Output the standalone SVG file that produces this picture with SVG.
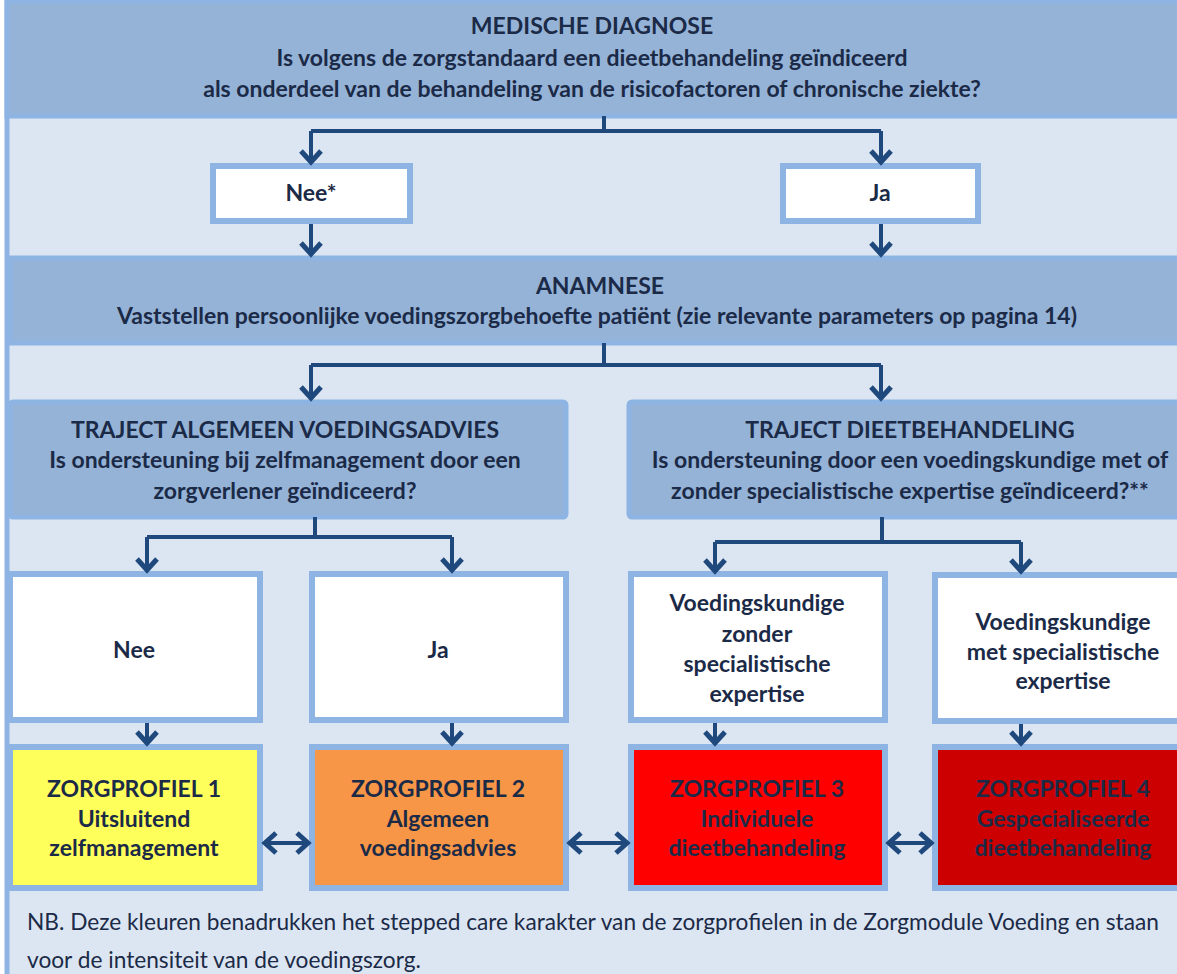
<svg xmlns="http://www.w3.org/2000/svg" width="1177" height="974" viewBox="0 0 1177 974">
<defs>
<style>
.band{fill:#95b3d7;stroke:#8eb4e3;stroke-width:5}
.box{fill:#ffffff;stroke:#8eb4e3;stroke-width:6}
.t{font-family:Lato,"Liberation Sans",sans-serif;font-weight:bold;font-size:23px;fill:#1b2a47;text-anchor:middle}
.nb{font-family:Lato,"Liberation Sans",sans-serif;font-size:22.7px;fill:#1b2a47}
.c{fill:none;stroke:#1f497d;stroke-width:4}
</style>
<marker id="ah" viewBox="-16 -13 20 26" refX="0" refY="0" markerWidth="20" markerHeight="26" markerUnits="userSpaceOnUse" orient="auto-start-reverse">
<path d="M-12,-10 L-1,0 L-12,10" fill="none" stroke="#1f497d" stroke-width="5" stroke-linejoin="miter"/>
</marker>
</defs>
<rect x="0" y="0" width="1177" height="974" fill="#ffffff"/>
<rect x="7" y="3" width="1175" height="975" fill="#dce6f2" stroke="#8eb4e3" stroke-width="5"/>

<g id="medische-diagnose">
<rect class="band" x="7" y="1" width="1175" height="115"/>
<text class="t" x="592" y="34">MEDISCHE DIAGNOSE</text>
<text class="t" x="592" y="66">Is volgens de zorgstandaard een dieetbehandeling geïndiceerd</text>
<text class="t" x="592" y="97">als onderdeel van de behandeling van de risicofactoren of chronische ziekte?</text>
</g>

<g id="nee-star">
<rect class="box" x="213" y="166" width="197" height="55"/>
<text class="t" x="311" y="201">Nee*</text>
</g>
<g id="ja-top">
<rect class="box" x="783" y="166" width="195" height="55"/>
<text class="t" x="880" y="201">Ja</text>
</g>

<g id="anamnese">
<rect class="band" x="10" y="258" width="1172" height="85"/>
<text class="t" x="600" y="294">ANAMNESE</text>
<text class="t" x="597" y="324">Vaststellen persoonlijke voedingszorgbehoefte patiënt (zie relevante parameters op pagina 14)</text>
</g>

<g id="traject-algemeen">
<rect class="band" x="10" y="402" width="556" height="115" rx="3"/>
<text class="t" x="285" y="438">TRAJECT ALGEMEEN VOEDINGSADVIES</text>
<text class="t" x="285" y="468">Is ondersteuning bij zelfmanagement door een</text>
<text class="t" x="285" y="499">zorgverlener geïndiceerd?</text>
</g>
<g id="traject-dieet">
<rect class="band" x="629" y="402" width="560" height="115" rx="3"/>
<text class="t" x="910" y="438">TRAJECT DIEETBEHANDELING</text>
<text class="t" x="910" y="468">Is ondersteuning door een voedingskundige met of</text>
<text class="t" x="910" y="499">zonder specialistische expertise geïndiceerd?**</text>
</g>

<g id="nee">
<rect class="box" x="10" y="574" width="250" height="146"/>
<text class="t" x="134" y="658">Nee</text>
</g>
<g id="ja">
<rect class="box" x="312" y="574" width="254" height="146"/>
<text class="t" x="438" y="658">Ja</text>
</g>
<g id="vk-zonder">
<rect class="box" x="631" y="574" width="254" height="146"/>
<text class="t" x="757" y="611">Voedingskundige</text>
<text class="t" x="757" y="642">zonder</text>
<text class="t" x="757" y="672">specialistische</text>
<text class="t" x="757" y="702">expertise</text>
</g>
<g id="vk-met">
<rect class="box" x="935" y="575" width="250" height="146"/>
<text class="t" x="1063" y="630">Voedingskundige</text>
<text class="t" x="1063" y="660">met specialistische</text>
<text class="t" x="1063" y="689">expertise</text>
</g>

<g id="zorgprofiel-1">
<rect class="box" x="10" y="747" width="250" height="141" style="fill:#ffff5c"/>
<text class="t" x="134" y="797">ZORGPROFIEL 1</text>
<text class="t" x="134" y="827">Uitsluitend</text>
<text class="t" x="134" y="856">zelfmanagement</text>
</g>
<g id="zorgprofiel-2">
<rect class="box" x="312" y="747" width="254" height="141" style="fill:#f79646"/>
<text class="t" x="438" y="797">ZORGPROFIEL 2</text>
<text class="t" x="438" y="827">Algemeen</text>
<text class="t" x="438" y="856">voedingsadvies</text>
</g>
<g id="zorgprofiel-3">
<rect class="box" x="631" y="747" width="254" height="141" style="fill:#ff0000"/>
<text class="t" x="757" y="797">ZORGPROFIEL 3</text>
<text class="t" x="757" y="827">Individuele</text>
<text class="t" x="757" y="856">dieetbehandeling</text>
</g>
<g id="zorgprofiel-4">
<rect class="box" x="935" y="747" width="250" height="141" style="fill:#cc0000"/>
<text class="t" x="1063" y="797">ZORGPROFIEL 4</text>
<text class="t" x="1063" y="827">Gespecialiseerde</text>
<text class="t" x="1063" y="856">dieetbehandeling</text>
</g>

<g id="note">
<text class="nb" x="27" y="930">NB. Deze kleuren benadrukken het stepped care karakter van de zorgprofielen in de Zorgmodule Voeding en staan</text>
<text class="nb" x="27" y="968">voor de intensiteit van de voedingszorg.</text>
</g>

<g id="connectors">
<path class="c" d="M604 116 V131 M311 131 H881"/>
<path class="c" d="M311 131 V163" marker-end="url(#ah)"/>
<path class="c" d="M881 131 V163" marker-end="url(#ah)"/>
<path class="c" d="M311 224 V255" marker-end="url(#ah)"/>
<path class="c" d="M881 224 V255" marker-end="url(#ah)"/>
<path class="c" d="M604 343 V365 M311 365 H881"/>
<path class="c" d="M311 365 V399" marker-end="url(#ah)"/>
<path class="c" d="M881 365 V399" marker-end="url(#ah)"/>
<path class="c" d="M315 517 V537 M147 537 H452"/>
<path class="c" d="M147 537 V571" marker-end="url(#ah)"/>
<path class="c" d="M452 537 V571" marker-end="url(#ah)"/>
<path class="c" d="M882 517 V542 M715 542 H1021"/>
<path class="c" d="M715 542 V572" marker-end="url(#ah)"/>
<path class="c" d="M1021 542 V572" marker-end="url(#ah)"/>
<path class="c" d="M147 723 V744" marker-end="url(#ah)"/>
<path class="c" d="M452 723 V744" marker-end="url(#ah)"/>
<path class="c" d="M715 723 V744" marker-end="url(#ah)"/>
<path class="c" d="M1021 724 V744" marker-end="url(#ah)"/>
<path class="c" d="M264 843 H309" marker-start="url(#ah)" marker-end="url(#ah)"/>
<path class="c" d="M569 843 H628" marker-start="url(#ah)" marker-end="url(#ah)"/>
<path class="c" d="M888 843 H932" marker-start="url(#ah)" marker-end="url(#ah)"/>
</g>
</svg>
